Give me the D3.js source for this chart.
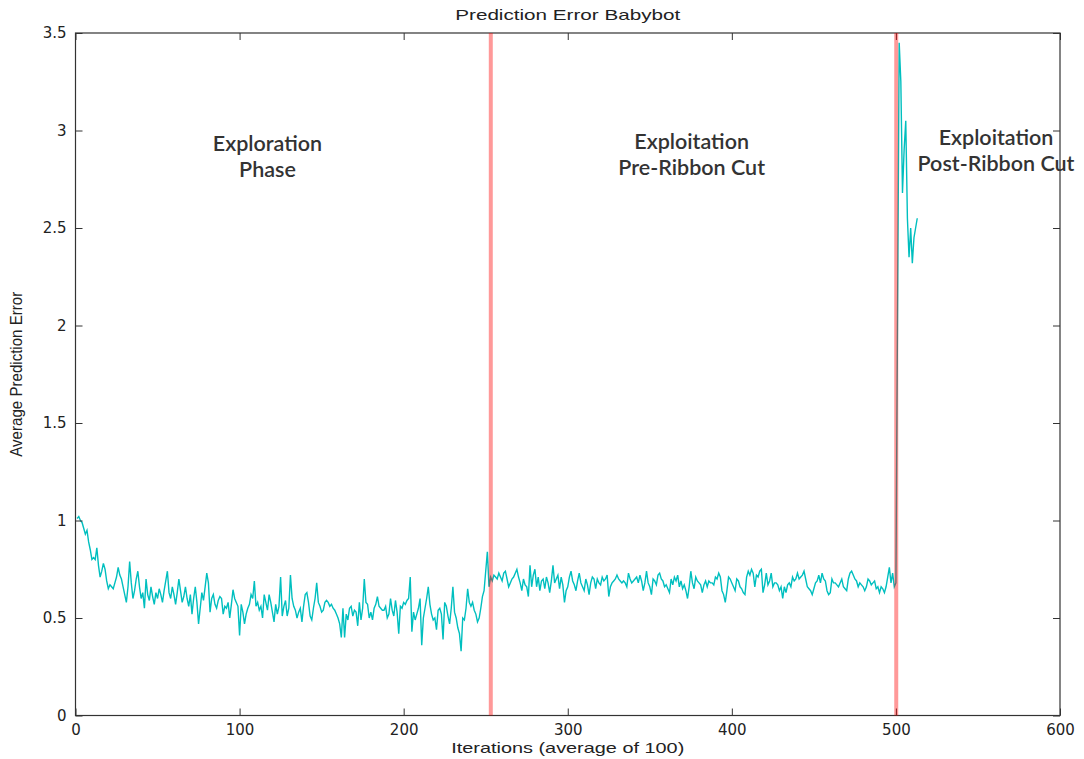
<!DOCTYPE html>
<html>
<head>
<meta charset="utf-8">
<script src="https://cdn.jsdelivr.net/npm/d3@7"></script>
<style>
  body { margin: 0; background: #fff; }
  svg { display: block; }
</style>
</head>
<body>
<div id="chart"></div>
<script>
// error values, one per iteration (average of 100)
const explorationErr = [
  1.01,1.02,1.00,0.99,0.96,0.93,0.95,0.89,0.85,0.80,0.81,0.80,0.86,0.77,0.71,0.74,0.78,0.75,0.69,0.65,
  0.67,0.66,0.65,0.68,0.71,0.76,0.72,0.70,0.66,0.62,0.58,0.66,0.79,0.68,0.60,0.64,0.70,0.74,0.66,0.60,
  0.63,0.55,0.70,0.62,0.59,0.66,0.61,0.57,0.63,0.60,0.65,0.62,0.58,0.64,0.69,0.74,0.63,0.60,0.66,0.62,
  0.57,0.63,0.70,0.64,0.58,0.61,0.66,0.60,0.56,0.62,0.52,0.60,0.66,0.58,0.47,0.55,0.63,0.59,0.66,0.73,
  0.68,0.53,
  0.60,0.62,0.57,0.55,0.59,0.61,0.60,0.52,0.56,0.55,0.58,0.50,0.57,0.645,0.60,0.58,0.56,0.41,0.57,0.53,
  0.47,0.52,0.55,0.57,0.62,0.60,0.69,0.56,0.58,0.54,0.56,0.50,0.62,0.58,0.54,0.62,0.58,0.53,0.48,0.57,
  0.52,0.56,0.71,0.51,0.56,0.59,0.51,0.55,0.72,0.60,0.56,0.54,0.50,0.53,0.55,0.48,0.56,0.62,0.63,0.58,
  0.51,0.49,0.55,0.60,0.68,0.58,0.56,0.53,0.54,0.58,0.59,0.58,0.56,0.57,0.55,0.54,0.52,0.50,0.47,0.40,
  0.55,0.40,0.52,0.49,0.55,0.56,0.51,0.54,
  0.53,0.46,0.58,0.49,0.55,0.70,0.58,0.57,0.50,0.53,0.49,0.55,0.57,0.61,0.56,0.55,0.54,0.54,0.56,0.50,
  0.52,0.60,0.54,0.51,0.59,0.53,0.42,0.56,0.55,0.58,0.57,0.59,0.60,0.71,0.43,0.53,0.49,0.52,0.55,0.60,
  0.36,0.50,0.55,0.60,0.66,0.57,0.52,0.49,0.50,0.44,0.54,0.55,0.52,0.39,0.58,0.56,0.51,0.47,0.55,0.66,
  0.53,0.50,0.45,0.42,0.33,0.50,0.49,0.55,0.65,0.58,0.56,0.58,0.54,0.52,0.48,0.50,0.55,0.61,0.64,0.74,
  0.84,0.66,0.71
];
const preCutErr = [
  0.69,0.72,0.71,0.70,0.73,0.71,0.69,0.73,0.74,0.70,0.66,0.68,0.70,0.71,0.73,0.75,0.71,0.68,0.64,0.70,
  0.67,0.66,0.61,0.77,0.66,0.72,0.75,0.66,0.71,0.64,0.69,0.70,0.65,0.71,0.68,0.63,0.69,0.77,0.68,0.70,
  0.72,0.65,0.71,0.67,0.58,0.64,0.66,0.71,0.74,0.69,0.67,0.64,0.69,0.73,0.68,0.66,0.64,0.70,0.67,0.62,
  0.68,0.71,0.70,0.65,0.70,0.68,0.67,0.71,0.69,0.70,0.72,0.61,0.66,0.68,0.69,0.70,0.72,0.70,0.69,0.68,
  0.69,0.68,
  0.66,0.73,0.70,0.68,0.69,0.70,0.71,0.68,0.72,0.69,0.64,0.68,0.74,0.68,0.66,0.62,0.70,0.69,0.67,0.72,
  0.73,0.70,0.69,0.66,0.67,0.65,0.63,0.70,0.67,0.71,0.69,0.72,0.66,0.69,0.65,0.67,0.64,0.60,0.66,0.74,
  0.68,0.65,0.71,0.69,0.68,0.67,0.63,0.67,0.69,0.66,0.69,0.68,0.68,0.67,0.71,0.70,0.73,0.71,0.64,0.62,
  0.58,0.64,0.71,0.70,0.68,0.66,0.64,0.70,0.69,0.66,0.65,0.63,0.62,0.71,0.74,0.72,0.75,0.73,0.66,0.72,
  0.71,0.74,0.75,0.63,0.67,
  0.73,0.67,0.69,0.73,0.66,0.68,0.68,0.67,0.64,0.66,0.60,0.66,0.63,0.67,0.68,0.66,0.71,0.69,0.70,0.73,
  0.70,0.71,0.72,0.74,0.70,0.66,0.65,0.64,0.62,0.65,0.68,0.69,0.72,0.68,0.73,0.70,0.69,0.64,0.62,0.63,
  0.70,0.68,0.68,0.67,0.66,0.68,0.70,0.66,0.65,0.64,0.70,0.73,0.74,0.72,0.70,0.69,0.66,0.68,0.67,0.66,
  0.64,0.66,0.70,0.69,0.67,0.68,0.69,0.65,0.66,0.63,0.66,0.65,0.63,0.66,0.71,0.76,0.68,0.73,0.66,0.68
];
const postCutErr = [2.07,3.45,3.25,2.68,2.90,3.05,2.55,2.35,2.50,2.32,2.45,2.50,2.55];

const phaseCuts = [253.1, 500.2];
const xTicks = [0, 100, 200, 300, 400, 500, 600];
const yTicks = [0, 0.5, 1, 1.5, 2, 2.5, 3, 3.5];
const phaseLabels = [
  {lines: ["Exploration", "Phase"], at: 117, y: 2.893},
  {lines: ["Exploitation", "Pre-Ribbon Cut"], at: 375.5, y: 2.903},
  {lines: ["Exploitation", "Post-Ribbon Cut"], at: 561, y: 2.928}
];

const width = 1084, height = 759;
const margin = {top: 33, right: 24, bottom: 43.5, left: 75.5};
const axisColor = "#333";
const tickFont = "'DejaVu Sans', Verdana, sans-serif";

const allErr = explorationErr.concat(preCutErr, postCutErr);
const data = allErr.map((v, i) => ({it: i + 1, v: v}));

const x = d3.scaleLinear().domain([0, 600]).range([margin.left, width - margin.right]);
const y = d3.scaleLinear().domain([0, 3.5]).range([height - margin.bottom, margin.top]);

const svg = d3.select("#chart").append("svg")
    .attr("width", width)
    .attr("height", height)
    .attr("viewBox", [0, 0, width, height])
    .style("font-family", "'Liberation Sans', Arial, sans-serif");

svg.append("rect").attr("width", width).attr("height", height).attr("fill", "#fff");

// data line
const line = d3.line().x(d => x(d.it)).y(d => y(d.v));
svg.append("path")
    .datum(data)
    .attr("fill", "none")
    .attr("stroke", "#00bfbf")
    .attr("stroke-width", 1.4)
    .attr("d", line);

// axes, matlab style: box with inward ticks
const axBottom = svg.append("g")
    .attr("transform", `translate(0,${y(0)})`)
    .call(d3.axisBottom(x).tickValues(xTicks).tickSize(-7).tickPadding(9).tickSizeOuter(0));
const axTop = svg.append("g")
    .attr("transform", `translate(0,${y(3.5)})`)
    .call(d3.axisTop(x).tickValues(xTicks).tickSize(-7).tickFormat("").tickSizeOuter(0));
const axLeft = svg.append("g")
    .attr("transform", `translate(${x(0)},0)`)
    .call(d3.axisLeft(y).tickValues(yTicks).tickSize(-7).tickPadding(9).tickFormat(d3.format("")).tickSizeOuter(0));
const axRight = svg.append("g")
    .attr("transform", `translate(${x(600)},0)`)
    .call(d3.axisRight(y).tickValues(yTicks).tickSize(-7).tickFormat("").tickSizeOuter(0));

[axBottom, axTop, axLeft, axRight].forEach(g => {
  g.select(".domain").remove();
  g.selectAll("line").attr("stroke", axisColor);
  g.selectAll("text").attr("fill", "#222")
      .style("font-family", tickFont)
      .style("font-size", "15px");
});

svg.append("rect")
    .attr("x", x(0)).attr("y", y(3.5))
    .attr("width", x(600) - x(0)).attr("height", y(0) - y(3.5))
    .attr("fill", "none").attr("stroke", axisColor).attr("stroke-width", 1.2);

// phase separators
svg.append("g").selectAll("line")
    .data(phaseCuts)
    .join("line")
    .attr("x1", d => x(d)).attr("x2", d => x(d))
    .attr("y1", y(3.5)).attr("y2", y(0))
    .attr("stroke", "red")
    .attr("stroke-opacity", 0.4)
    .attr("stroke-width", 4);

// phase annotations
const ann = svg.append("g")
    .style("font-family", "Lato, 'Open Sans', sans-serif")
    .style("font-weight", 600)
    .style("font-size", "21.5px")
    .attr("fill", "#333")
    .attr("text-anchor", "middle");
phaseLabels.forEach(p => {
  p.lines.forEach((s, k) => {
    ann.append("text")
        .attr("x", x(p.at))
        .attr("y", y(p.y) + k * 26)
        .text(s);
  });
});

// title and axis labels
svg.append("text")
    .attr("x", (x(0) + x(600)) / 2).attr("y", 20)
    .attr("text-anchor", "middle").attr("fill", "#222")
    .style("font-size", "15px")
    .attr("textLength", 225).attr("lengthAdjust", "spacingAndGlyphs")
    .text("Prediction Error Babybot");

svg.append("text")
    .attr("x", (x(0) + x(600)) / 2).attr("y", 753)
    .attr("text-anchor", "middle").attr("fill", "#222")
    .style("font-size", "15px")
    .attr("textLength", 233).attr("lengthAdjust", "spacingAndGlyphs")
    .text("Iterations (average of 100)");

svg.append("text")
    .attr("transform", `translate(22,${(y(0) + y(3.5)) / 2}) rotate(-90)`)
    .attr("text-anchor", "middle").attr("fill", "#222")
    .style("font-size", "16px")
    .attr("textLength", 165).attr("lengthAdjust", "spacingAndGlyphs")
    .text("Average Prediction Error");
</script>
</body>
</html>
